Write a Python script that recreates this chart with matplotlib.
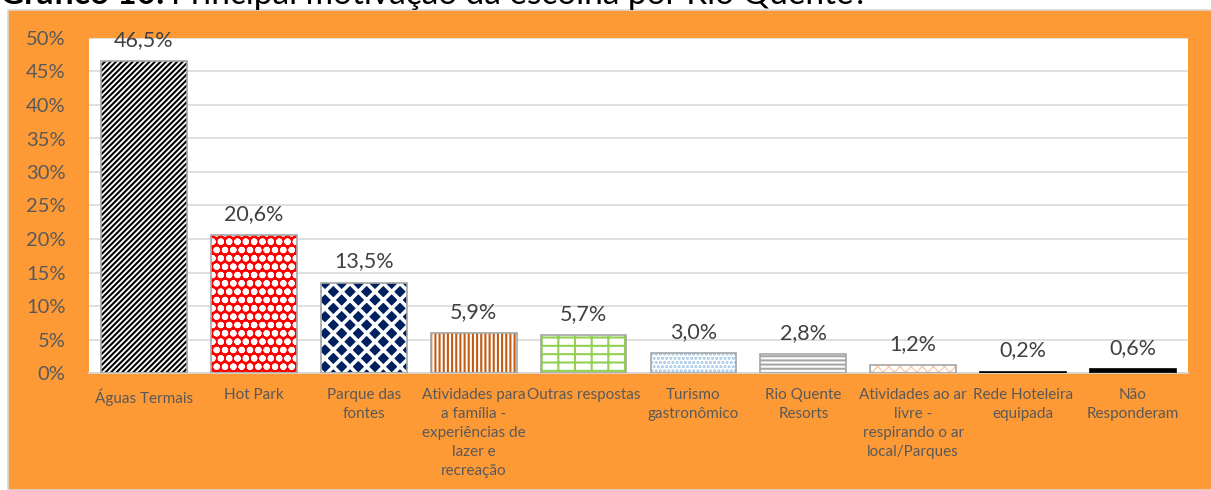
import matplotlib
matplotlib.use("Agg")
import matplotlib.pyplot as plt
from matplotlib.patches import Rectangle
from matplotlib.ticker import MultipleLocator, FuncFormatter

plt.rcParams["font.family"] = ["Lato", "DejaVu Sans"]
plt.rcParams["hatch.linewidth"] = 1.5

categories = [
    "Águas Termais",
    "Hot Park",
    "Parque das\nfontes",
    "Atividades para\na família -\nexperiências de\nlazer e\nrecreação",
    "Outras respostas",
    "Turismo\ngastronômico",
    "Rio Quente\nResorts",
    "Atividades ao ar\nlivre -\nrespirando o ar\nlocal/Parques",
    "Rede Hoteleira\nequipada",
    "Não\nResponderam",
]
values = [0.465, 0.206, 0.135, 0.059, 0.057, 0.030, 0.028, 0.012, 0.002, 0.006]

# fill styles per bar: face colour, hatch colour, hatch, outline
face_colors = ["white", "#FF0000", "#002060", "white", "white",
               "white", "white", "white", "black", "black"]
hatch_colors = ["black", "white", "white", "#C55A11", "#92D050",
                "#9DC3E6", "#A6A6A6", "#F8CBAD", "black", "black"]
hatches = ["//////", "oo", "xx", "||||", "+-", "....", "----", "xxx", "", ""]
outline_colors = ["#A6A6A6"] * 8 + ["black", "black"]

ORANGE = "#FD9A35"
TEXT = "#595959"

fig = plt.figure(figsize=(12.11, 4.90), dpi=100, facecolor="white")
fig.patches.append(Rectangle((8 / 1211, 0), 1.0, 1 - 10 / 490,
                             transform=fig.transFigure, facecolor=ORANGE,
                             edgecolor="#D9D9D9", linewidth=1.2, zorder=-5))

ax = fig.add_axes([89 / 1211, 1 - 373 / 490, (1188 - 89) / 1211, (373 - 38) / 490])
ax.set_zorder(1)
ax.set_facecolor("white")

x = range(len(values))
fill = ax.bar(x, values, width=0.78, color=face_colors, edgecolor=hatch_colors,
              linewidth=0, zorder=2)
for patch, h in zip(fill, hatches):
    patch.set_hatch(h)
fill[0].set_hatch_linewidth(1.5)
fill[1].set_hatch_linewidth(2.2)
fill[2].set_hatch_linewidth(2.6)
fill[7].set_hatch_linewidth(1.0)

ax.bar(x, values, width=0.78, fill=False, edgecolor=outline_colors,
       linewidth=1.2, zorder=3)

for xi, v in zip(x, values):
    ax.annotate(f"{v * 100:.1f}".replace(".", ",") + "%", (xi, v),
                xytext=(0, 8), textcoords="offset points",
                ha="center", va="bottom", fontsize=15.5, color="#404040")

ax.set_xlim(-0.5, len(values) - 0.5)
ax.set_ylim(0, 0.5)
ax.yaxis.set_major_locator(MultipleLocator(0.05))
ax.yaxis.set_major_formatter(FuncFormatter(lambda v, _: f"{v * 100:.0f}%"))
ax.grid(axis="y", color="#D9D9D9", linewidth=1.2, zorder=0)
ax.set_axisbelow(True)

for s in ["top", "right", "left"]:
    ax.spines[s].set_visible(False)
ax.spines["bottom"].set_color("#D9D9D9")
ax.spines["bottom"].set_linewidth(1.2)

ax.set_xticks(list(x))
ax.set_xticklabels(categories, fontsize=11, color=TEXT, linespacing=1.45)
ax.tick_params(axis="x", length=0, pad=11)
ax.tick_params(axis="y", length=0, pad=17, labelsize=14.5, labelcolor=TEXT)

# title, cut off at the top edge as in the source
t1 = fig.text(0.0, 1 - 4 / 490, "Gráfico 10:", fontsize=24, fontweight="bold",
              color="black", va="baseline", ha="left")
fig.canvas.draw()
bb = t1.get_window_extent()
fig.text(bb.x1 / fig.bbox.width + 0.005, 1 - 4 / 490,
         "Principal motivação da escolha por Rio Quente?",
         fontsize=24, color="black", va="baseline", ha="left")

fig.savefig("out.png", dpi=100, facecolor=fig.get_facecolor())
